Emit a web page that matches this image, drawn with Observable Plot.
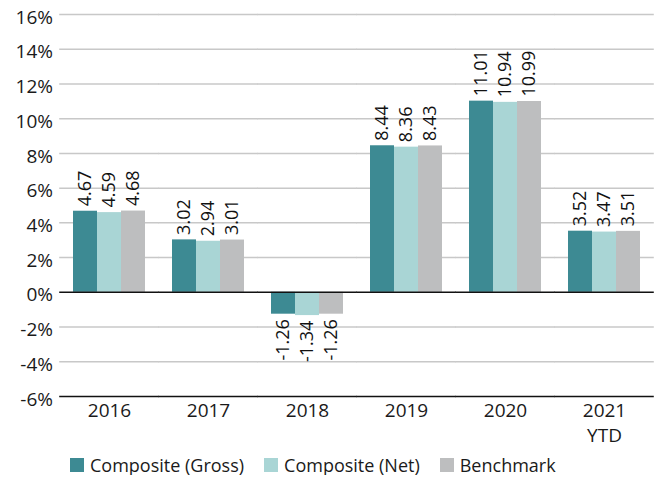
<!DOCTYPE html>
<html>
<head>
<meta charset="utf-8">
<script src="https://cdn.jsdelivr.net/npm/d3@7"></script>
<script src="https://cdn.jsdelivr.net/npm/@observablehq/plot@0.6"></script>
<style>
  body { margin: 0; background: white; font-family: 'Open Sans', sans-serif; }
  #chart svg { display: block; }
  #legend { display: flex; align-items: center; padding-left: 70px; padding-top: 15px; height: 20px; font-size: 18px; color: #1a1a1a; line-height: 20px; }
  .item { display: flex; align-items: center; margin-right: 20px; }
  .sw { width: 14px; height: 14px; margin-right: 6px; }
</style>
</head>
<body>
<div id="chart"></div>
<div id="legend"></div>
<script>
const years = ["2016", "2017", "2018", "2019", "2020", "2021\nYTD"];
const series = ["Composite (Gross)", "Composite (Net)", "Benchmark"];
const gross = [4.67, 3.02, -1.26, 8.44, 11.01, 3.52];
const net = [4.59, 2.94, -1.34, 8.36, 10.94, 3.47];
const bench = [4.68, 3.01, -1.26, 8.43, 10.99, 3.51];
const colors = ["#3d8a93", "#a9d5d5", "#bdbebf"];
const yTicks = [-6, -4, -2, 0, 2, 4, 6, 8, 10, 12, 14, 16];

const seriesValues = [gross, net, bench];
const data = years.flatMap((yr, i) => series.map((s, j) => ({year: yr, series: s, value: seriesValues[j][i]})));
const fmt = d => d3.format(".2f")(d).replace("\u2212", "-");

const W = 660, ML = 58, MR = 5;
const padIn = 0.277, padOut = 0.136;
const step = (W - ML - MR) / (years.length - padIn + 2 * padOut);
const ext = -(padIn * step) / 2; // extend rules across facet gaps
const outer = padOut * step;

const chart = Plot.plot({
  width: W,
  height: 440,
  marginLeft: ML,
  marginRight: MR,
  marginTop: 14,
  marginBottom: 44,
  style: {fontFamily: "'Open Sans', sans-serif", fontSize: "18px", color: "#1a1a1a", background: "white", overflow: "visible"},
  fx: {domain: years, paddingInner: padIn, paddingOuter: padOut, label: null},
  x: {domain: series, axis: null, padding: 0},
  y: {domain: [-6, 16], label: null},
  color: {domain: series, range: colors},
  marks: [
    Plot.ruleY(yTicks.filter(d => d !== 0 && d !== -6), {stroke: "#c8c8c8", strokeWidth: 1.5, insetLeft: ext, insetRight: ext}),
    Plot.barY(data, {fx: "year", x: "series", y: "value", fill: "series"}),
    Plot.ruleY([0, -6], {stroke: "#111", strokeWidth: 1.5, insetLeft: ext, insetRight: ext}),
    Plot.axisY({ticks: yTicks, tickFormat: d => `${d}%`, tickSize: 0, tickPadding: 7 + outer, dy: 3, fontSize: 19, label: null, fill: "#1a1a1a"}),
    Plot.axisFx({anchor: "bottom", tickSize: 0, tickPadding: 3, fontSize: 19, lineHeight: 1.3, label: null, fill: "#1a1a1a"}),
    Plot.text(data.filter(d => d.value >= 0), {fx: "year", x: "series", y: "value", text: d => fmt(d.value), rotate: -90, textAnchor: "start", dy: -5, fontSize: 18, fill: "#111"}),
    Plot.text(data.filter(d => d.value < 0), {fx: "year", x: "series", y: "value", text: d => fmt(d.value), rotate: -90, textAnchor: "end", dy: 5, fontSize: 18, fill: "#111"})
  ]
});
document.getElementById("chart").appendChild(chart);

const legend = document.getElementById("legend");
series.forEach((s, i) => {
  const item = document.createElement("div");
  item.className = "item";
  const sw = document.createElement("div");
  sw.className = "sw";
  sw.style.background = colors[i];
  const label = document.createElement("span");
  label.textContent = s;
  item.appendChild(sw);
  item.appendChild(label);
  legend.appendChild(item);
});
</script>
</body>
</html>
